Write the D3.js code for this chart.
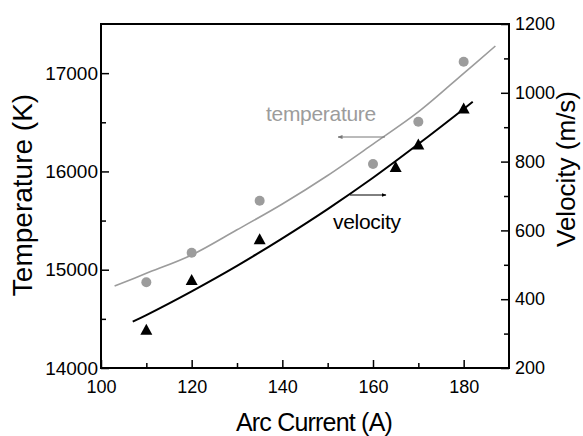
<!DOCTYPE html>
<html>
<head>
<meta charset="utf-8">
<script src="https://cdn.jsdelivr.net/npm/d3@7"></script>
<style>
  html, body { margin: 0; padding: 0; background: #fff; }
  svg { display: block; font-family: "Liberation Sans", Arial, sans-serif; }
</style>
</head>
<body>
<svg id="chart" width="583" height="436"></svg>
<script>
// ---- data ----
const tempCurrent = [110, 120, 135, 160, 170, 180];
const temperature = [14872, 15173, 15702, 16075, 16505, 17116];
const velCurrent = [110, 120, 135, 165, 170, 180];
const velocity = [313, 457, 576, 786, 851, 956];
const tempFitCurrent = [103, 110, 120, 130, 140, 150, 160, 170, 180, 187];
const tempFit = [14834, 14963, 15150, 15406, 15669, 15959, 16278, 16605, 16998, 17276];
const velFitCurrent = [107, 110, 120, 130, 140, 150, 160, 170, 180, 182];
const velFit = [335, 354, 423, 497, 577, 662, 753, 851, 953, 974];
const xTicks = [100, 120, 140, 160, 180];
const xMinor = [110, 130, 150, 170];
const tTicks = [14000, 15000, 16000, 17000];
const tMinor = [14500, 15500, 16500];
const vTicks = [200, 400, 600, 800, 1000, 1200];
const vMinor = [300, 500, 700, 900, 1100];

const svg = d3.select("#chart");
const L = 101, R = 509, T = 24, B = 368;
const x = d3.scaleLinear().domain([100, 190]).range([L, R]);
const yT = d3.scaleLinear().domain([14000, 17500]).range([B, T]);
const yV = d3.scaleLinear().domain([200, 1200]).range([B, T]);

const gray = "#9c9c9c";

// axes
const gx = svg.append("g").attr("transform", `translate(0,${B})`)
  .call(d3.axisBottom(x).tickValues(xTicks).tickSizeInner(-8).tickSizeOuter(0).tickPadding(12));
svg.append("g").attr("transform", `translate(0,${B})`)
  .call(d3.axisBottom(x).tickValues(xMinor).tickSizeInner(-5).tickSizeOuter(0).tickFormat(""));
const gl = svg.append("g").attr("transform", `translate(${L},0)`)
  .call(d3.axisLeft(yT).tickValues(tTicks).tickSizeInner(-8).tickSizeOuter(0).tickPadding(3).tickFormat(d3.format("d")));
svg.append("g").attr("transform", `translate(${L},0)`)
  .call(d3.axisLeft(yT).tickValues(tMinor).tickSizeInner(-5).tickSizeOuter(0).tickFormat(""));
const gr = svg.append("g").attr("transform", `translate(${R},0)`)
  .call(d3.axisRight(yV).tickValues(vTicks).tickSizeInner(-8).tickSizeOuter(0).tickPadding(6).tickFormat(d3.format("d")));
svg.append("g").attr("transform", `translate(${R},0)`)
  .call(d3.axisRight(yV).tickValues(vMinor).tickSizeInner(-5).tickSizeOuter(0).tickFormat(""));

svg.selectAll(".domain").remove();
svg.selectAll(".tick line").attr("stroke", "#000").attr("stroke-width", 1.5);
svg.selectAll(".tick text").attr("fill", "#000").attr("font-family", "Liberation Sans, Arial, sans-serif");
gx.selectAll("text").attr("font-size", 18);
gl.selectAll("text").attr("font-size", 19);
gr.selectAll("text").attr("font-size", 18);

// frame
svg.append("rect").attr("x", L).attr("y", T).attr("width", R - L).attr("height", B - T)
  .attr("fill", "none").attr("stroke", "#000").attr("stroke-width", 2);

// fit curves
const lineT = d3.line().x((d, i) => x(tempFitCurrent[i])).y(d => yT(d)).curve(d3.curveCatmullRom);
const lineV = d3.line().x((d, i) => x(velFitCurrent[i])).y(d => yV(d)).curve(d3.curveCatmullRom);
svg.append("path").attr("d", lineT(tempFit)).attr("fill", "none").attr("stroke", gray).attr("stroke-width", 1.6);
svg.append("path").attr("d", lineV(velFit)).attr("fill", "none").attr("stroke", "#000").attr("stroke-width", 2);

// markers
svg.selectAll("circle.t").data(temperature).enter().append("circle")
  .attr("cx", (d, i) => x(tempCurrent[i])).attr("cy", d => yT(d)).attr("r", 5).attr("fill", gray);
svg.selectAll("path.v").data(velocity).enter().append("path")
  .attr("d", (d, i) => {
    const cx = x(velCurrent[i]), cy = yV(d);
    return `M${cx},${cy - 5.5}L${cx - 6},${cy + 5.5}L${cx + 6},${cy + 5.5}Z`;
  })
  .attr("fill", "#000");

// annotations with arrows
const defs = svg.append("defs");
function marker(id, color) {
  defs.append("marker").attr("id", id).attr("viewBox", "0 0 10 10").attr("refX", 9).attr("refY", 5)
    .attr("markerWidth", 5).attr("markerHeight", 5).attr("orient", "auto-start-reverse")
    .append("path").attr("d", "M0,1L10,5L0,9Z").attr("fill", color);
}
marker("ah-gray", "#777");
marker("ah-black", "#000");

svg.append("line").attr("x1", 385).attr("y1", 137).attr("x2", 338).attr("y2", 137)
  .attr("stroke", "#777").attr("stroke-width", 1).attr("marker-end", "url(#ah-gray)");
svg.append("line").attr("x1", 350).attr("y1", 195).attr("x2", 386).attr("y2", 195)
  .attr("stroke", "#000").attr("stroke-width", 1).attr("marker-end", "url(#ah-black)");

svg.append("text").attr("x", 266).attr("y", 121).attr("font-size", 21).attr("fill", gray)
  .attr("letter-spacing", -0.3).text("temperature");
svg.append("text").attr("x", 333).attr("y", 229).attr("font-size", 21).attr("fill", "#000")
  .attr("letter-spacing", -0.3).text("velocity");

// axis titles
svg.append("text").attr("x", 314).attr("y", 431).attr("text-anchor", "middle")
  .attr("font-size", 25).attr("letter-spacing", -0.8).text("Arc Current (A)");
svg.append("text").attr("transform", "translate(32,195) rotate(-90)").attr("text-anchor", "middle")
  .attr("font-size", 28).text("Temperature (K)");
svg.append("text").attr("transform", "translate(575,169) rotate(-90)").attr("text-anchor", "middle")
  .attr("font-size", 26).text("Velocity (m/s)");
</script>
</body>
</html>
